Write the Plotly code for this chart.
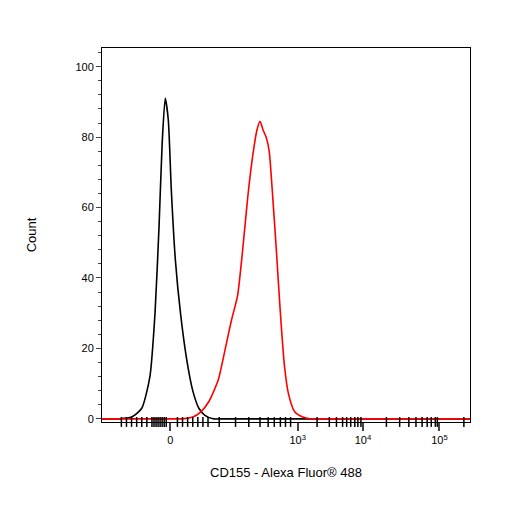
import plotly.graph_objects as go

# x in display units of a biexponential axis (0 -> 168, 10^3 -> 293, 10^4 -> 357, 10^5 -> 432)
black_x = [101,110,118,130,140,148,153,157,160,163,166,169,173,178,184,190,196,202,210,220,462]
black_y = [0,0,0,0.5,3,12,30,55,78,91,85,65,45,30,17,8,3,1,0,0,0]
red_x = [101,170,180,190,198,206,215,222,228,234,239,244,249,253,256,259,262,265,268,272,276,280,284,290,298,305,315,462]
red_y = [0,0,0,0.5,2,5,11,20,28,35,48,63,75,82,84.5,82,80,76,65,48,30,15,7,2,0.5,0,0,0]
major_pos = [168,293,357,432]
major_txt = ["0","10<sup>3</sup>","10<sup>4</sup>","10<sup>5</sup>"]
minor_pos = [120,125,130,135,140,145,150,152,154,156,158,160,162,164,175,180,185,190,195,200,205,216,232,245,256,264,270,276,281,286,
             312,324,331,337,341,345,349,352,355,380,393,402,409,415,420,424,428,430,456]

fig = go.Figure()
fig.add_trace(go.Scatter(x=black_x, y=black_y, mode="lines", line=dict(color="black", width=1.6, shape="spline", smoothing=0.6)))
fig.add_trace(go.Scatter(x=red_x, y=red_y, mode="lines", line=dict(color="red", width=1.6, shape="spline", smoothing=0.6)))
fig.add_trace(go.Scatter(x=minor_pos, y=[-0.9]*len(minor_pos), mode="markers",
                         marker=dict(symbol="line-ns", size=7, line=dict(color="black", width=1.5)), hoverinfo="skip", cliponaxis=False))

fig.update_layout(
    width=506, height=506, showlegend=False, plot_bgcolor="white", paper_bgcolor="white",
    margin=dict(l=94, r=44, t=40, b=92),
    font=dict(family="Liberation Sans, Arial", size=11, color="black"),
    xaxis=dict(range=[101,462], tickvals=major_pos, ticktext=major_txt, ticks="outside", ticklen=8, tickwidth=2,
               showline=True, mirror=True, linecolor="black", linewidth=1, showgrid=False, zeroline=False,
               title=dict(text="CD155 - Alexa Fluor® 488", standoff=22)),
    yaxis=dict(range=[-0.9,105.3], tickvals=[0,20,40,60,80,100], ticks="outside", ticklen=5,
               minor=dict(dtick=4, ticks="outside", ticklen=3, tick0=0),
               showline=True, mirror=True, linecolor="black", linewidth=1, showgrid=False, zeroline=False,
               title=dict(text="Count", standoff=35)),
)
fig.write_html("out.html")
